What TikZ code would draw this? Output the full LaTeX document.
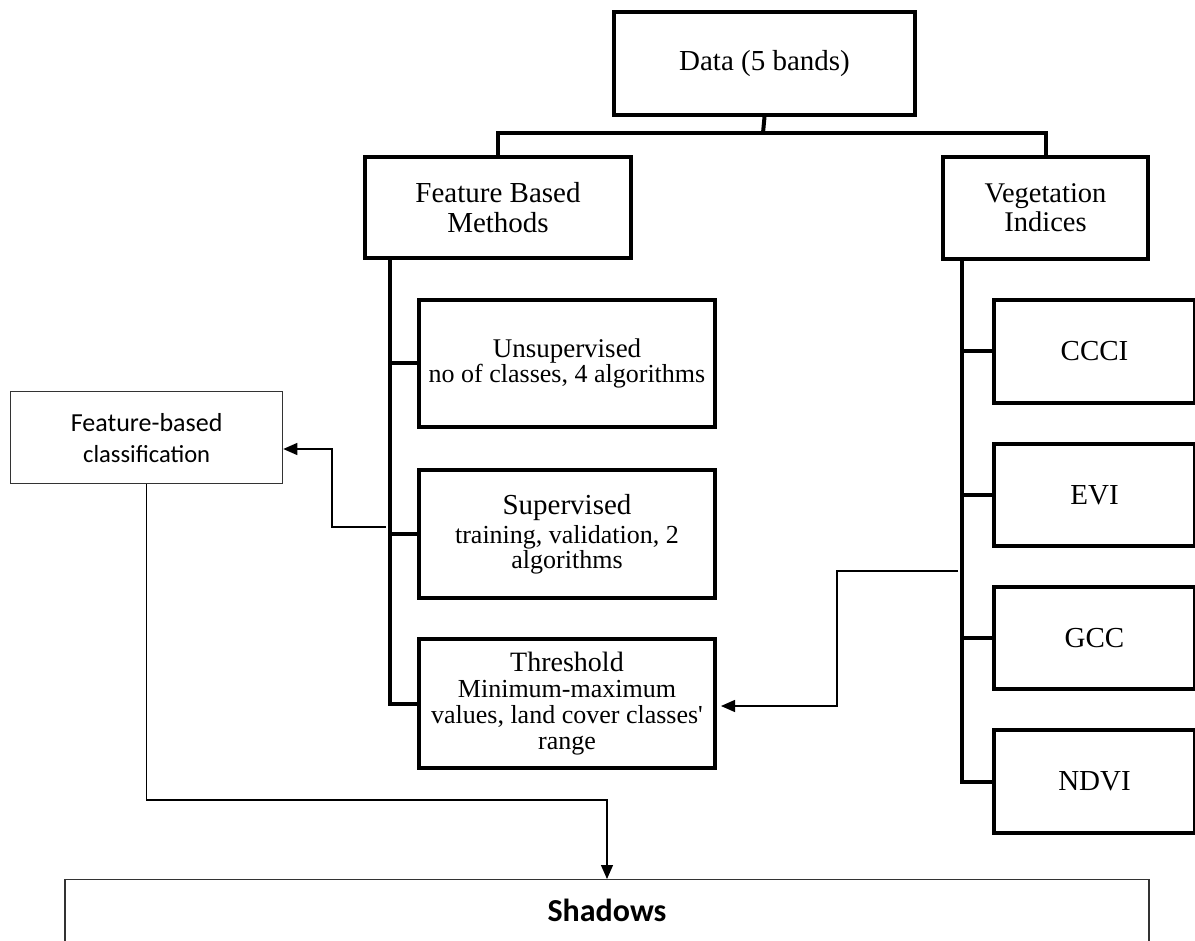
\documentclass[tikz,border=0pt]{standalone}
\usepackage{fontspec}
\setmainfont{Liberation Serif}[Ligatures=TeXOff]
\newfontfamily\calfont{Carlito}
\usetikzlibrary{arrows.meta}
\begin{document}
\begin{tikzpicture}[x=1pt,y=-1pt,
  thickbox/.style={draw=black, line width=4pt, inner sep=0pt, align=center, anchor=north west},
  thinbox/.style={draw=black!80, line width=1.3pt, inner sep=0pt, align=center, anchor=north west},
  tree/.style={draw=black, line width=4pt},
  thinarrow/.style={draw=black, line width=1.3pt, -{Triangle[length=14pt,width=12pt]}},
  hdfont/.style={font=\fontsize{29}{30}\selectfont},
  subfont/.style={font=\fontsize{26}{26}\selectfont}
]
\useasboundingbox (0,0) rectangle (1195,941);
\clip (0,0) rectangle (1195,941);

% top level
\node[thickbox, hdfont, minimum width=301pt, minimum height=103pt] (data) at (612,10) {Data (5 bands)};
\node[thickbox, hdfont, minimum width=266pt, minimum height=101pt] (fbm) at (363,155) {Feature Based\\Methods};
\node[thickbox, font=\fontsize{28.5}{29}\selectfont, minimum width=205pt, minimum height=102pt] (veg) at (941,155) {Vegetation\\Indices};

% left branch
\node[thickbox, subfont, minimum width=296pt, minimum height=127pt] (unsup) at (417,298) {{\fontsize{27}{26}\selectfont Unsupervised}\\[-1pt]no of classes, 4 algorithms};
\node[thickbox, subfont, minimum width=296pt, minimum height=128pt] (sup) at (417,468) {{\fontsize{29}{26}\selectfont Supervised}\\[3pt]training, validation, 2\\[-1pt]algorithms};
\node[thickbox, subfont, minimum width=296pt, minimum height=129pt] (thr) at (417,637) {{\fontsize{28}{26}\selectfont Threshold}\\Minimum-maximum\\values, land cover classes'\\range};

% right branch
\node[thickbox, hdfont, minimum width=201pt, minimum height=103pt] (ccci) at (992,298) {CCCI};
\node[thickbox, hdfont, minimum width=201pt, minimum height=102pt] (evi) at (992,442) {EVI};
\node[thickbox, hdfont, minimum width=201pt, minimum height=102pt] (gcc) at (992,585) {GCC};
\node[thickbox, hdfont, minimum width=201pt, minimum height=103pt] (ndvi) at (992,728) {NDVI};

% side boxes
\node[thinbox, font=\calfont\fontsize{26}{31}\selectfont, minimum width=272pt, minimum height=92pt] (fbc) at (10,391) {Feature-based\\{\fontsize{24.6}{31}\selectfont classification}};
\node[thinbox, anchor=north, font=\calfont\bfseries\fontsize{32}{32}\selectfont, minimum width=1084pt, text height=24pt, text depth=70pt, inner ysep=18pt] (sh) at (607,879) {Shadows};

% tree connectors
\coordinate (bar) at (763,133);
\draw[tree] (data.south) -- (bar);
\draw[tree] (fbm.north) |- (bar) -| (veg.north);

\coordinate (tl) at ([xshift=27pt]fbm.south west);
\draw[tree] (tl) |- (thr.west);
\draw[tree] (tl |- unsup.west) -- (unsup.west);
\draw[tree] (tl |- sup.west) -- (sup.west);

\coordinate (tr) at ([xshift=21pt]veg.south west);
\draw[tree] (tr) |- (ndvi.west);
\draw[tree] (tr |- ccci.west) -- (ccci.west);
\draw[tree] (tr |- evi.west) -- (evi.west);
\draw[tree] (tr |- gcc.west) -- (gcc.west);

% thin arrows
\coordinate (a1) at (386,527);
\coordinate (a1k) at (332,449);
\draw[thinarrow] (a1) -| (a1k) -- (fbc.east |- a1k);

\coordinate (a2) at (958,571);
\coordinate (a2k) at (837,706);
\draw[thinarrow, shorten >=4pt] (a2) -| (a2k) -- (thr.east |- a2k);

\coordinate (a3k) at (607,800);
\draw[thinarrow] (fbc.south) |- (a3k) -- (sh.north);
\end{tikzpicture}
\end{document}
